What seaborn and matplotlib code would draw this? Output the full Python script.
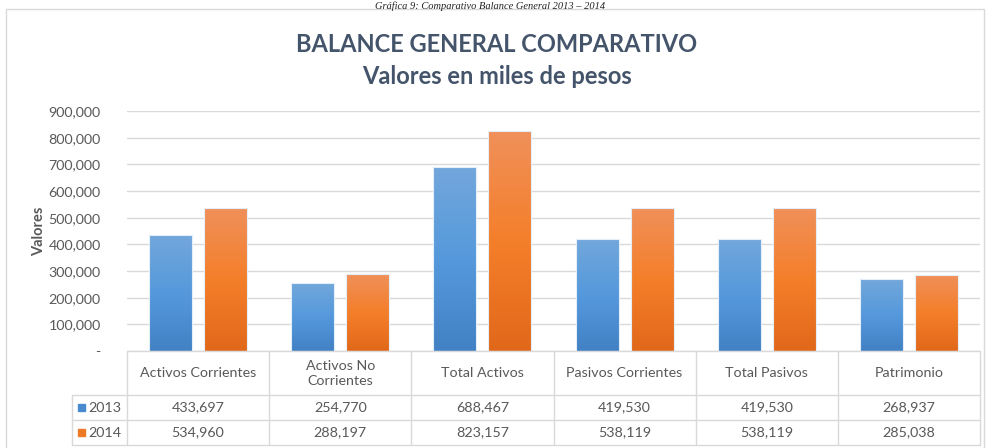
import numpy as np
import pandas as pd
import seaborn as sns
import matplotlib.pyplot as plt
from matplotlib.colors import LinearSegmentedColormap
from matplotlib.patches import Rectangle
from matplotlib.transforms import blended_transform_factory

# datos del balance (miles de pesos)
categorias = ['Activos Corrientes', 'Activos No\nCorrientes', 'Total Activos',
              'Pasivos Corrientes', 'Total Pasivos', 'Patrimonio']
valores_2013 = [433697, 254770, 688467, 419530, 419530, 268937]
valores_2014 = [534960, 288197, 823157, 538119, 538119, 285038]
anios = ['2013', '2014']
yticks = [0, 100000, 200000, 300000, 400000, 500000, 600000, 700000, 800000, 900000]

df = pd.DataFrame({
    'Categoria': categorias * 2,
    'Anio': ['2013'] * len(categorias) + ['2014'] * len(categorias),
    'Valor': valores_2013 + valores_2014,
})

sns.set_style('white')
plt.rcParams['font.family'] = ['Lato', 'DejaVu Sans']

texto = '#595959'
borde = '#D9D9D9'
colores = {'2013': ['#4181C4', '#5599DC', '#72A7DB'],
           '2014': ['#E1681A', '#F47F2A', '#F0905A']}
planos = {'2013': '#4A8BD0', '2014': '#EE7A26'}

fig = plt.figure(figsize=(9.86, 4.48), dpi=100)
ax = fig.add_axes([127 / 986, 1 - 351 / 448, 853 / 986, 240 / 448])

sns.barplot(data=df, x='Categoria', y='Valor', hue='Anio', order=categorias,
            hue_order=anios, palette=planos, width=0.775, gap=0.22,
            legend=False, ax=ax)

# degradado vertical en cada barra
for i, cont in enumerate(ax.containers):
    cmap = LinearSegmentedColormap.from_list('g', colores[anios[i]])
    grad = np.linspace(0, 1, 256).reshape(-1, 1)
    for bar in cont:
        x0, y0 = bar.get_x(), bar.get_y()
        w, h = bar.get_width(), bar.get_height()
        im = ax.imshow(grad, cmap=cmap, origin='lower', aspect='auto',
                       extent=[x0, x0 + w, y0, y0 + h], zorder=2)
        im.set_clip_path(bar)
        bar.set_facecolor('none')
        bar.set_edgecolor('#E4EEF8')
        bar.set_linewidth(0.8)
        bar.set_zorder(3)

ax.set_xlim(-0.5, len(categorias) - 0.5)
ax.set_ylim(0, 900000)
ax.set_yticks(yticks)
ax.set_yticklabels(['-'] + [f'{v:,}' for v in yticks[1:]], color=texto, fontsize=10.3)
ax.tick_params(axis='y', length=0, pad=19)
ax.set_xticks([])
ax.set_xlabel('')
ax.set_ylabel('Valores', color=texto, fontsize=10.5, fontweight='bold')
ax.yaxis.set_label_coords(-0.095, 0.5)
ax.grid(axis='y', color=borde, linewidth=1)
ax.set_axisbelow(True)
for s in ax.spines.values():
    s.set_visible(False)

# tabla de datos bajo el eje
tr = blended_transform_factory(ax.transData, ax.transAxes)
ta = ax.transAxes
y_hdr, y_r1, y_r2, y_end = 0, -44 / 240, -69 / 240, -94 / 240
x_left = -55 / 853
lw = 1
for k in range(len(categorias) + 1):
    ax.plot([k - 0.5, k - 0.5], [y_hdr, y_end], transform=tr, color=borde,
            lw=lw, clip_on=False)
ax.plot([0, 1], [y_hdr, y_hdr], transform=ta, color=borde, lw=lw, clip_on=False)
for yy in [y_r1, y_r2, y_end]:
    ax.plot([x_left, 1], [yy, yy], transform=ta, color=borde, lw=lw, clip_on=False)
ax.plot([x_left, x_left], [y_r1, y_end], transform=ta, color=borde, lw=lw, clip_on=False)

for k, cat in enumerate(categorias):
    ax.text(k, (y_hdr + y_r1) / 2, cat, transform=tr, ha='center', va='center',
            color=texto, fontsize=10.3, linespacing=1.3)
    ax.text(k, (y_r1 + y_r2) / 2, f'{valores_2013[k]:,}', transform=tr,
            ha='center', va='center', color=texto, fontsize=10.3)
    ax.text(k, (y_r2 + y_end) / 2, f'{valores_2014[k]:,}', transform=tr,
            ha='center', va='center', color=texto, fontsize=10.3)

for anio, yy in zip(anios, [(y_r1 + y_r2) / 2, (y_r2 + y_end) / 2]):
    ax.add_patch(Rectangle((x_left + 6 / 853, yy - 3.5 / 240), 7 / 853, 7 / 240,
                           transform=ta, color=planos[anio], clip_on=False))
    ax.text(x_left + 16 / 853, yy, anio, transform=ta, ha='left', va='center',
            color=texto, fontsize=10.3)

# marco del grafico
fig.patches.append(Rectangle((6 / 986, -0.05), 978 / 986, 1.05 - 9 / 448,
                             transform=fig.transFigure, fill=False,
                             edgecolor=borde, linewidth=1))

fig.text(497 / 986, 1 - 45 / 448, 'BALANCE GENERAL COMPARATIVO', ha='center',
         va='center', fontsize=17, fontweight='bold', color='#44546A')
fig.text(497 / 986, 1 - 76 / 448, 'Valores en miles de pesos', ha='center',
         va='center', fontsize=17, fontweight='bold', color='#44546A')

# pie de grafica (en el original aparece recortado arriba)
fig.text(490 / 986, 1 - 1 / 448, 'Gráfica 9: Comparativo Balance General 2013 – 2014',
         ha='center', va='top', fontsize=7.5, style='italic',
         family=['Liberation Serif', 'DejaVu Serif'], color='#222222')

fig.savefig('out.png', dpi=100)
